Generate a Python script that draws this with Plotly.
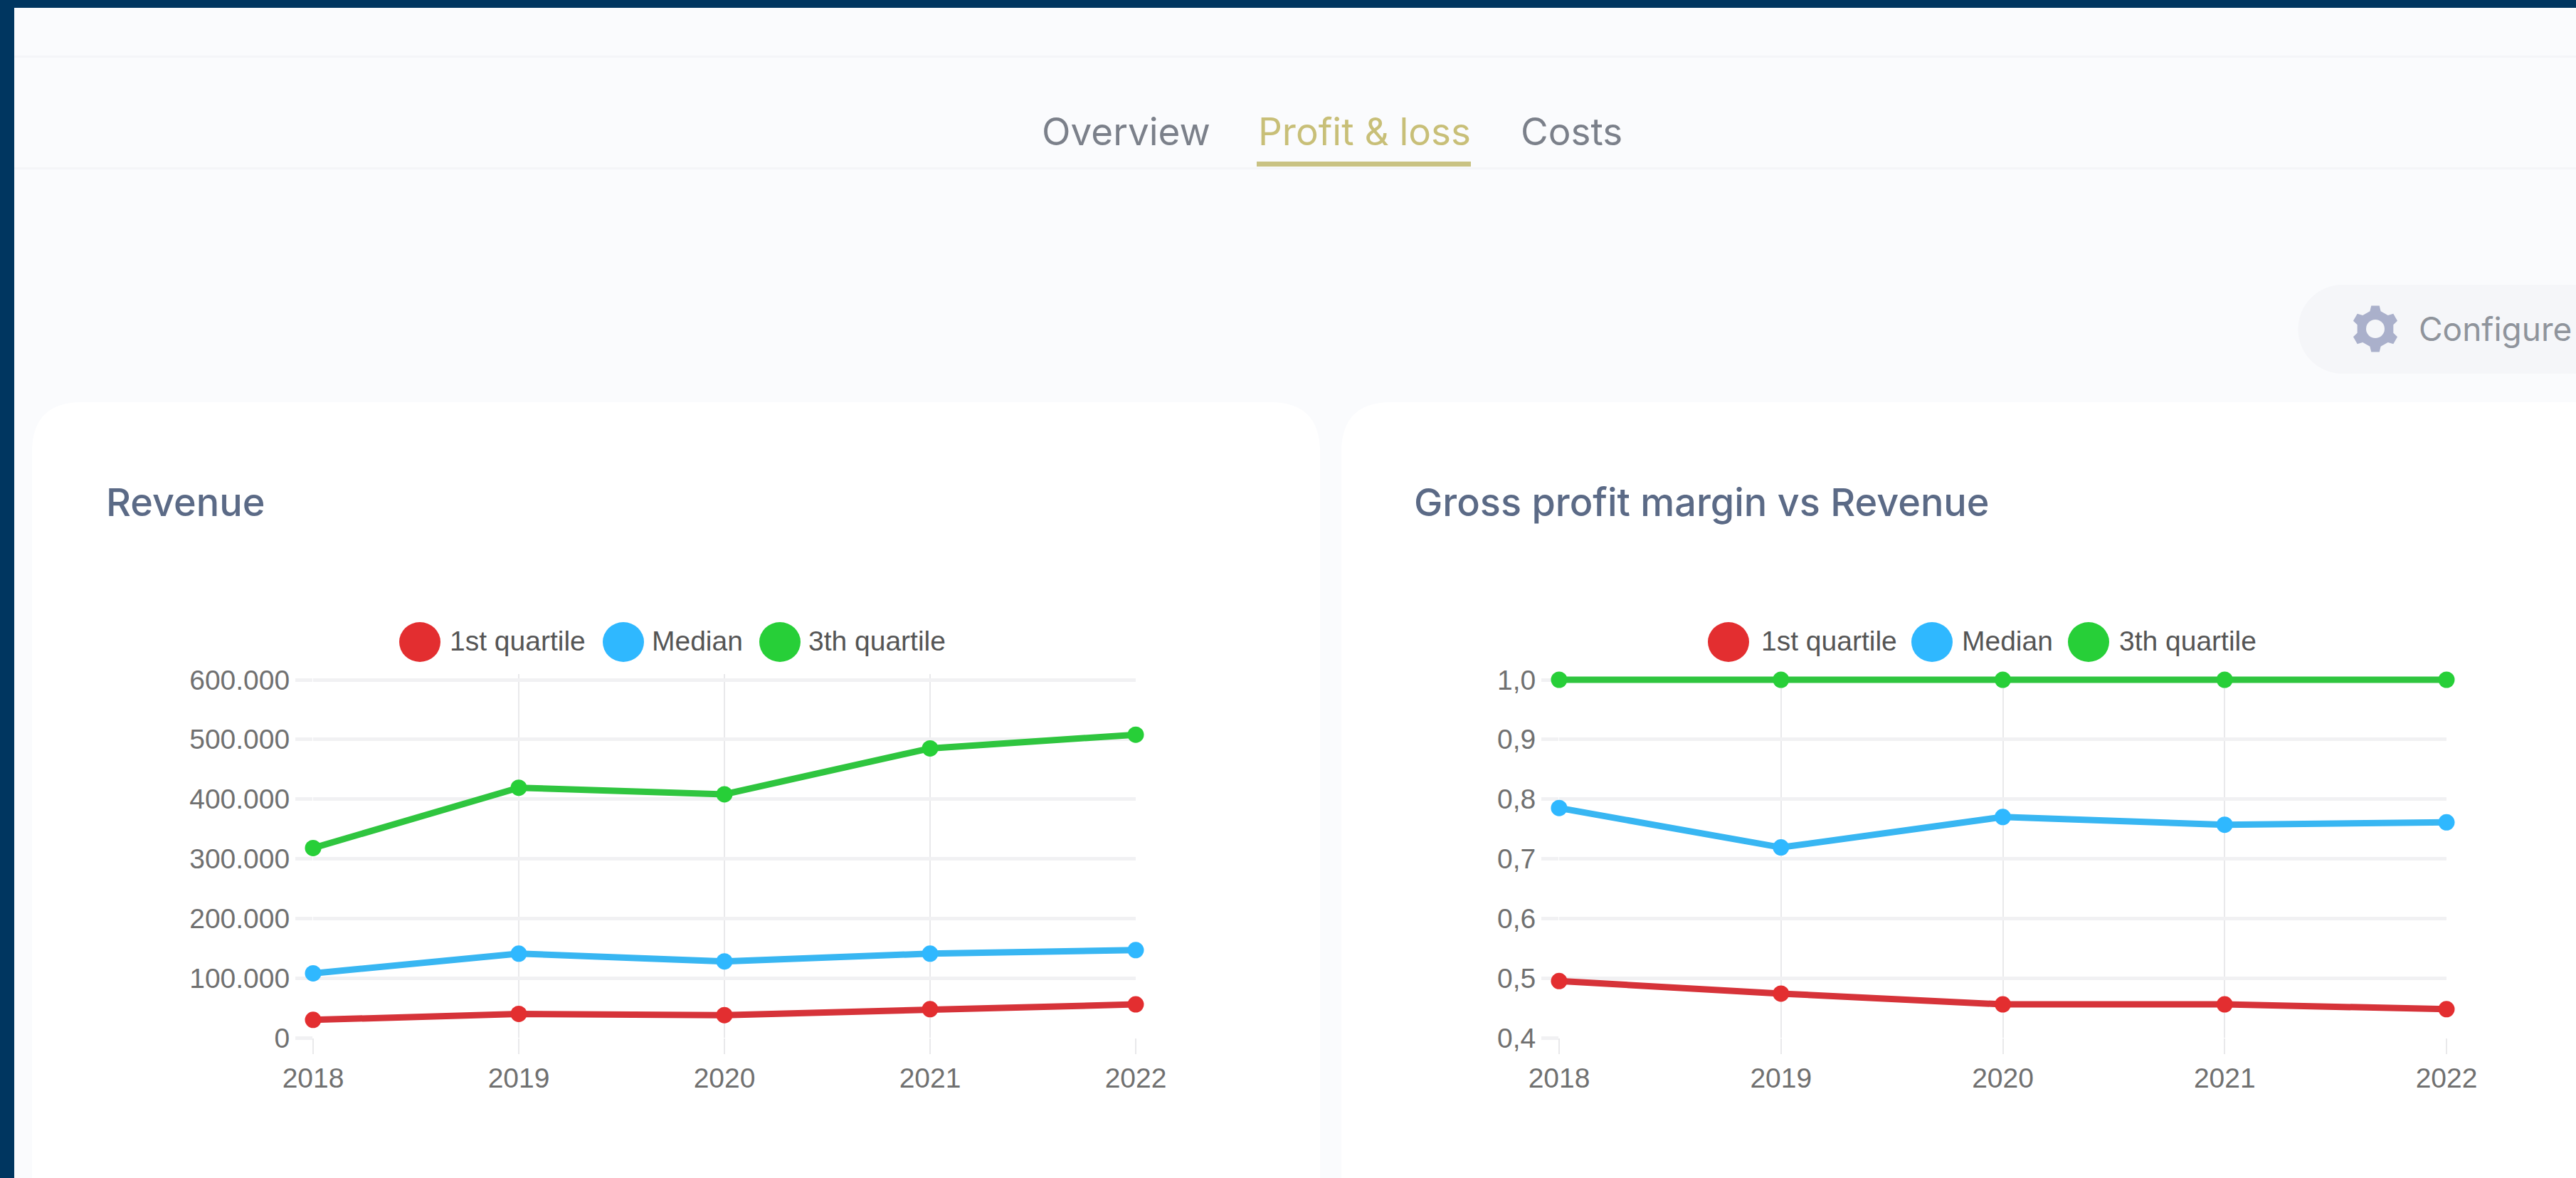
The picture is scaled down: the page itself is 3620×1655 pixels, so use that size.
import math
import plotly.graph_objects as go

W, H = 3620, 1655
years = ["2018", "2019", "2020", "2021", "2022"]
series_names = ["1st quartile", "Median", "3th quartile"]

rev_q1 = [30000, 40000, 38000, 48000, 56000]
rev_med = [108000, 141000, 128000, 141000, 147000]
rev_q3 = [318000, 419000, 408000, 485000, 508000]

gpm_q1 = [0.495, 0.474, 0.456, 0.456, 0.448]
gpm_med = [0.785, 0.719, 0.770, 0.757, 0.761]
gpm_q3 = [1.0, 1.0, 1.0, 1.0, 1.0]

rev_tickvals = [0, 100000, 200000, 300000, 400000, 500000, 600000]
rev_ticktext = ["0", "100.000", "200.000", "300.000", "400.000", "500.000", "600.000"]
gpm_tickvals = [0.4, 0.5, 0.6, 0.7, 0.8, 0.9, 1.0]
gpm_ticktext = ["0,4", "0,5", "0,6", "0,7", "0,8", "0,9", "1,0"]

tabs = ["Overview", "Profit & loss", "Costs"]
titles = ["Revenue", "Gross profit margin vs Revenue"]

LINE = ["#d63339", "#38b6f2", "#2fc53f"]
DOT = ["#e32e30", "#2fb8ff", "#27cf38"]
UI_FONT = "Inter, 'Open Sans', sans-serif"
CHART_FONT = "'Liberation Sans', Arial, sans-serif"

PLOT_TOP, PLOT_BOTTOM = 955, 1458
HEAD = 8  # extra pixels above the top tick, so a line on the top tick is not cut
HEAD_FRAC = HEAD / (PLOT_BOTTOM - PLOT_TOP)


def px(x):
    return x / W


def py(y):
    return 1 - y / H


def rect(x0, y0, x1, y1, fill):
    return dict(type="rect", xref="paper", yref="paper", x0=px(x0), x1=px(x1),
                y0=py(y0), y1=py(y1), fillcolor=fill, line_width=0, layer="below")


def card(x0, y0, x1, y1, r):
    p = (f"M {px(x0)} {py(y1)} L {px(x0)} {py(y0 + r)} "
         f"Q {px(x0)} {py(y0)} {px(x0 + r)} {py(y0)} "
         f"L {px(x1 - r)} {py(y0)} Q {px(x1)} {py(y0)} {px(x1)} {py(y0 + r)} "
         f"L {px(x1)} {py(y1)} Z")
    return dict(type="path", xref="paper", yref="paper", path=p,
                fillcolor="#ffffff", line_width=0, layer="below")


def gear(cx, cy, outer, inner, fill):
    pts = []
    for k in range(6):
        mid = math.radians(60 * k - 90)
        for off, rad in ((-17, inner), (-10, outer), (10, outer), (17, inner)):
            a = mid + math.radians(off)
            pts.append((cx + rad * math.cos(a), cy + rad * math.sin(a)))
    p = "M " + " L ".join(f"{px(x)} {py(y)}" for x, y in pts) + " Z"
    return dict(type="path", xref="paper", yref="paper", path=p,
                fillcolor=fill, line_width=0, layer="below")


def circle(cx, cy, rx, ry, fill, layer="above"):
    return dict(type="circle", xref="paper", yref="paper", x0=px(cx - rx), x1=px(cx + rx),
                y0=py(cy + ry), y1=py(cy - ry), fillcolor=fill, line_width=0, layer=layer)


def text(x, y, s, size, color, font=UI_FONT, anchor="left", weight=400):
    return dict(xref="paper", yref="paper", x=px(x), y=py(y), text=s, showarrow=False,
                xanchor=anchor, yanchor="middle",
                font=dict(size=size, color=color, family=font, weight=weight))


shapes = [
    rect(0, 0, W, H, "#fafbfd"),
    rect(0, 78, W, 81, "#f4f5f8"),
    rect(0, 235, W, 238, "#f4f5f8"),
    card(45, 565, 1855, H + 80, 70),
    card(1885, 565, W + 120, H + 80, 70),
    rect(3292, 400, W, 525, "#f5f6f9"),
    circle(3292, 462.5, 62.5, 62.5, "#f5f6f9", "below"),
    gear(3338, 462, 33, 26, "#aab0cb"),
    circle(3338, 462, 13, 13, "#f5f6f9", "below"),
    rect(1766, 227, 2067, 234, "#c9c283"),
    rect(0, 0, W, 11, "#003660"),
    rect(0, 0, 20, H, "#003660"),
]

annotations = [
    text(1462, 185, tabs[0], 53, "#7b808a"),
    text(1766, 185, tabs[1], 53, "#c8bf78"),
    text(2135, 185, tabs[2], 53, "#7b808a"),
    text(147, 705, titles[0], 54, "#5b6a86", weight=500),
    text(1985, 705, titles[1], 54, "#5b6a86", weight=500),
    text(3397, 462, "Configure", 46, "#8f949c"),
]

legend_dots = [[590, 876, 1096], [2429, 2715, 2935]]
legend_text = [[630, 914, 1134], [2473, 2755, 2976]]
for dots, labels in zip(legend_dots, legend_text):
    for i, name in enumerate(series_names):
        shapes.append(circle(dots[i], 902, 29, 28, DOT[i]))
        annotations.append(text(labels[i], 900, name, 39, "#555555", CHART_FONT))

fig = go.Figure()
panels = [("x", "y", [rev_q1, rev_med, rev_q3]), ("x2", "y2", [gpm_q1, gpm_med, gpm_q3])]
for xa, ya, vals in panels:
    for i, name in enumerate(series_names):
        fig.add_trace(go.Scatter(
            x=years, y=vals[i], name=name, xaxis=xa, yaxis=ya, mode="lines+markers",
            line=dict(color=LINE[i], width=9), marker=dict(color=DOT[i], size=23),
            cliponaxis=False, showlegend=False))

common_x = dict(type="category", categoryorder="array", categoryarray=years, range=[0, 4],
                automargin=False, layer="below traces",
                showgrid=True, gridcolor="#e9e9eb", gridwidth=2, zeroline=False, showline=False,
                ticks="outside", ticklen=22, tickwidth=2, tickcolor="#e9e9eb",
                tickfont=dict(size=39, color="#707070", family=CHART_FONT))
common_y = dict(automargin=False, layer="below traces",
                showgrid=True, gridcolor="#f1f1f3", gridwidth=4.5, zeroline=False, showline=False,
                ticks="outside", ticklen=24, tickwidth=4.5, tickcolor="#f1f1f3",
                tickfont=dict(size=39, color="#707070", family=CHART_FONT))

fig.update_layout(
    width=W, height=H, margin=dict(l=0, r=0, t=0, b=0),
    paper_bgcolor="#ffffff", plot_bgcolor="rgba(0,0,0,0)",
    shapes=shapes, annotations=annotations, showlegend=False,
    xaxis=dict(common_x, domain=[px(440), px(1596)], anchor="y"),
    yaxis=dict(common_y, domain=[py(PLOT_BOTTOM), py(PLOT_TOP - HEAD)], anchor="x",
               range=[0, 600000 * (1 + HEAD_FRAC)],
               tickvals=rev_tickvals, ticktext=rev_ticktext),
    xaxis2=dict(common_x, domain=[px(2191), px(3438)], anchor="y2"),
    yaxis2=dict(common_y, domain=[py(PLOT_BOTTOM), py(PLOT_TOP - HEAD)], anchor="x2",
                range=[0.4, 1.0 + 0.6 * HEAD_FRAC],
                tickvals=gpm_tickvals, ticktext=gpm_ticktext),
)

fig.write_html("out.html", config=dict(displayModeBar=False),
               post_script="document.body.style.margin='0';document.body.style.overflow='hidden';")
